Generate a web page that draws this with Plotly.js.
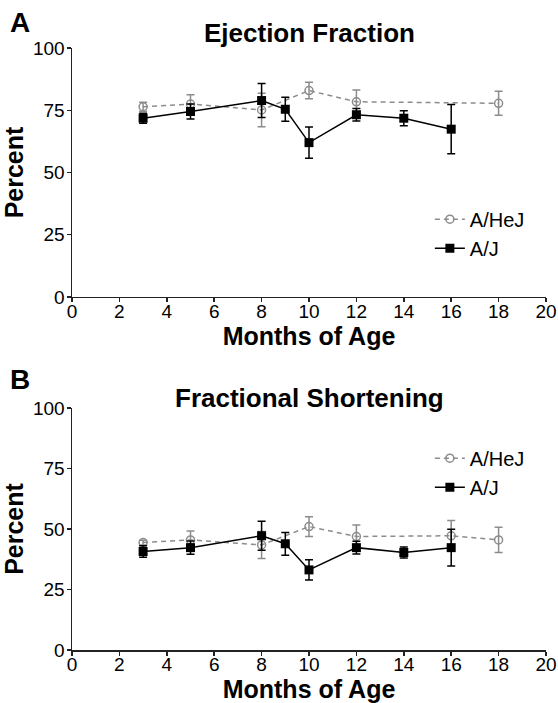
<!DOCTYPE html>
<html>
<head>
<meta charset="utf-8">
<script src="https://cdn.plot.ly/plotly-3.0.1.min.js"></script>
<style>html,body{margin:0;padding:0;background:#fff;}#chart{width:558px;height:703px;}</style>
</head>
<body>
<div id="chart"></div>
<script>
// Panel A: Ejection Fraction
const monthsHeJ_EF = [3, 5, 8, 10, 12, 18];
const efHeJ = [76.4, 77.5, 75.1, 82.9, 78.4, 77.8];
const efHeJErr = [1.8, 3.7, 6.7, 3.3, 4.7, 4.8];
const monthsAJ = [3, 5, 8, 9, 10, 12, 14, 16];
const efAJ = [71.8, 74.5, 78.9, 75.4, 62.0, 73.2, 71.8, 67.4];
const efAJErr = [2.0, 3.0, 6.8, 4.8, 6.3, 2.5, 3.0, 9.9];
// Panel B: Fractional Shortening
const monthsHeJ_FS = [3, 5, 8, 10, 12, 16, 18];
const fsHeJ = [44.4, 45.5, 43.4, 51.0, 46.9, 47.2, 45.5];
const fsHeJErr = [1.0, 3.7, 5.6, 4.1, 4.8, 6.3, 5.2];
const fsAJ = [40.7, 42.3, 47.2, 43.9, 33.1, 42.3, 40.3, 42.3];
const fsAJErr = [2.4, 2.7, 6.0, 4.7, 4.2, 2.6, 2.3, 7.6];

const seriesNames = ['A/HeJ', 'A/J'];
const panelTitles = ['Ejection Fraction', 'Fractional Shortening'];
const panelLetters = ['A', 'B'];
const xTitle = 'Months of Age';
const yTitle = 'Percent';

const GREY = '#8c8c8c';
const BLACK = '#000000';
const FONT = 'Arial, "Liberation Sans", sans-serif';

function hej(x, y, e, xa, ya, lg) {
  return {x: x, y: y, xaxis: xa, yaxis: ya, legend: lg, name: seriesNames[0], type: 'scatter', mode: 'lines+markers',
    line: {color: GREY, width: 1.5, dash: '5px,4px'},
    marker: {symbol: 'circle-open', size: 8, color: GREY, line: {width: 1.5, color: GREY}},
    error_y: {type: 'data', array: e, visible: true, color: GREY, thickness: 1.5, width: 4}};
}
function aj(x, y, e, xa, ya, lg) {
  return {x: x, y: y, xaxis: xa, yaxis: ya, legend: lg, name: seriesNames[1], type: 'scatter', mode: 'lines+markers',
    line: {color: BLACK, width: 1.5},
    marker: {symbol: 'square', size: 9, color: BLACK},
    error_y: {type: 'data', array: e, visible: true, color: BLACK, thickness: 1.5, width: 4}};
}

const data = [
  hej(monthsHeJ_EF, efHeJ, efHeJErr, 'x', 'y', 'legend'),
  aj(monthsAJ, efAJ, efAJErr, 'x', 'y', 'legend'),
  hej(monthsHeJ_FS, fsHeJ, fsHeJErr, 'x2', 'y2', 'legend2'),
  aj(monthsAJ, fsAJ, fsAJErr, 'x2', 'y2', 'legend2')
];

function xax(anchor) {
  return {anchor: anchor, domain: [0, 1], range: [0, 20], dtick: 2, tick0: 0,
    showline: true, linecolor: '#222', linewidth: 1.5, ticks: 'outside', ticklen: 4, tickwidth: 1.5, tickcolor: '#222',
    ticklabelstandoff: -7,
    showgrid: false, zeroline: false, tickfont: {family: FONT, size: 19, color: '#000'},
    title: {text: xTitle, font: {family: FONT, size: 25, color: '#000', weight: 'bold'}, standoff: 2}};
}
function yax(anchor, dom) {
  return {anchor: anchor, domain: dom, range: [0, 100], dtick: 25, tick0: 0,
    showline: true, linecolor: '#222', linewidth: 1.5, ticks: 'outside', ticklen: 4, tickwidth: 1.5, tickcolor: '#222',
    ticklabelstandoff: -2,
    showgrid: false, zeroline: false, tickfont: {family: FONT, size: 19, color: '#000'},
    title: {text: yTitle, font: {family: FONT, size: 25, color: '#000', weight: 'bold'}, standoff: 2}};
}

const legendBase = {bgcolor: 'rgba(0,0,0,0)', borderwidth: 0, font: {family: FONT, size: 20, color: '#000'},
  itemwidth: 30, tracegroupgap: 0, xanchor: 'left', yanchor: 'top', traceorder: 'normal'};

const layout = {
  width: 558, height: 703,
  margin: {l: 72, r: 12, t: 48, b: 53},
  paper_bgcolor: '#fff', plot_bgcolor: '#fff',
  showlegend: true,
  xaxis: xax('y'),
  yaxis: yax('x', [0.5864, 1]),
  xaxis2: xax('y2'),
  yaxis2: yax('x2', [0, 0.402]),
  legend: Object.assign({}, legendBase, {x: 0.755, y: 0.748}),
  legend2: Object.assign({}, legendBase, {x: 0.755, y: 0.351}),
  annotations: [
    {text: panelTitles[0], xref: 'paper', yref: 'paper', x: 0.5, y: 1.025, xanchor: 'center', yanchor: 'middle', showarrow: false,
     font: {family: FONT, size: 26, color: '#000', weight: 'bold'}},
    {text: panelTitles[1], xref: 'paper', yref: 'paper', x: 0.5, y: 0.4186, xanchor: 'center', yanchor: 'middle', showarrow: false,
     font: {family: FONT, size: 26, color: '#000', weight: 'bold'}},
    {text: panelLetters[0], xref: 'paper', yref: 'paper', x: -0.135, y: 1.043, xanchor: 'left', yanchor: 'middle', showarrow: false,
     font: {family: FONT, size: 28, color: '#000', weight: 'bold'}},
    {text: panelLetters[1], xref: 'paper', yref: 'paper', x: -0.135, y: 0.450, xanchor: 'left', yanchor: 'middle', showarrow: false,
     font: {family: FONT, size: 28, color: '#000', weight: 'bold'}}
  ]
};

Plotly.newPlot('chart', data, layout, {displayModeBar: false, staticPlot: true});
</script>
</body>
</html>
